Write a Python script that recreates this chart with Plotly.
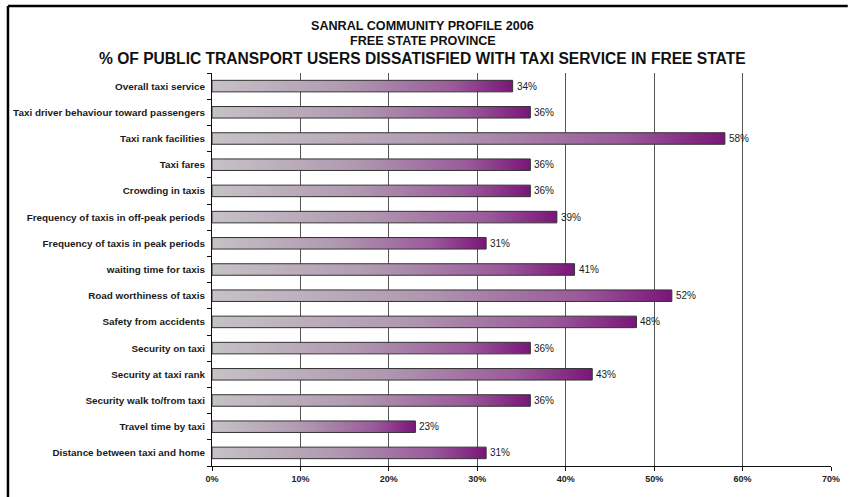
import plotly.graph_objects as go

# Survey items, listed top to bottom
categories = [
    "Overall taxi service",
    "Taxi driver behaviour toward passengers",
    "Taxi rank facilities",
    "Taxi fares",
    "Crowding in taxis",
    "Frequency of taxis in off-peak periods",
    "Frequency of taxis in peak periods",
    "waiting time for taxis",
    "Road worthiness of taxis",
    "Safety from accidents",
    "Security on taxi",
    "Security at taxi rank",
    "Security walk to/from taxi",
    "Travel time by taxi",
    "Distance between taxi and home",
]
# Percentage of users dissatisfied
dissatisfied_pct = [34, 36, 58, 36, 36, 39, 31, 41, 52, 48, 36, 43, 36, 23, 31]

x_ticks = [0, 10, 20, 30, 40, 50, 60, 70]
x_tick_labels = [f"{t}%" for t in x_ticks]

title_lines = [
    "SANRAL COMMUNITY PROFILE 2006",
    "FREE STATE PROVINCE",
    "% OF PUBLIC TRANSPORT USERS DISSATISFIED WITH TAXI SERVICE IN FREE STATE",
]

W, H = 852, 497
M_L, M_R, M_T, M_B = 212, 12, 73, 31
half = 0.22  # half bar thickness in category units
FONT = "Liberation Sans, Arial, sans-serif"

fig = go.Figure()

# Gradient-filled bars (grey on the left fading to purple at the end)
for i, v in enumerate(dissatisfied_pct):
    fig.add_trace(go.Scatter(
        x=[0, v, v, 0, 0],
        y=[i - half, i - half, i + half, i + half, i - half],
        mode="lines",
        fill="toself",
        fillgradient=dict(
            type="horizontal",
            colorscale=[[0, "#c6c2c6"], [0.45, "#b099b0"],
                        [0.8, "#9a5a9a"], [1, "#7b1579"]],
        ),
        line=dict(color="#333333", width=1),
        hoverinfo="skip",
        showlegend=False,
    ))

# Boundary tick marks on the category axis
fig.add_trace(go.Scatter(x=[None], y=[None], yaxis="y2", showlegend=False))

n = len(categories)
fig.update_layout(
    width=W, height=H,
    margin=dict(l=M_L, r=M_R, t=M_T, b=M_B),
    paper_bgcolor="white",
    plot_bgcolor="white",
    xaxis=dict(
        range=[0, 70],
        tickvals=x_ticks,
        ticktext=x_tick_labels,
        showgrid=True,
        gridcolor="#555555",
        gridwidth=1,
        zeroline=False,
        showline=True,
        linecolor="#111111",
        linewidth=1,
        ticks="outside",
        ticklen=4,
        tickcolor="#111111",
        tickfont=dict(family=FONT, size=9, color="#222222", weight="bold"),
        fixedrange=True,
    ),
    yaxis=dict(
        range=[n - 0.5, -0.5],
        tickvals=list(range(n)),
        ticktext=categories,
        showgrid=False,
        zeroline=False,
        showline=True,
        linecolor="#111111",
        linewidth=1,
        ticks="",
        ticklabelstandoff=4,
        tickfont=dict(family=FONT, size=9.9, color="#1a1a1a", weight="bold"),
    ),
    yaxis2=dict(
        overlaying="y",
        anchor="x",
        side="left",
        range=[n - 0.5, -0.5],
        tickvals=[k - 0.5 for k in range(n + 1)],
        showticklabels=False,
        ticks="outside",
        ticklen=4,
        tickcolor="#111111",
        showgrid=False,
        zeroline=False,
        showline=False,
    ),
)

# Value labels just past each bar end
for i, v in enumerate(dissatisfied_pct):
    fig.add_annotation(
        x=v, y=i, xref="x", yref="y",
        text=f"{v}%",
        xanchor="left", yanchor="middle",
        xshift=2, showarrow=False,
        font=dict(family=FONT, size=10, color="#1a1a1a"),
    )

# Three-line bold title
pw = W - M_L - M_R
ph = H - M_T - M_B
title_y_px = [26, 41, 58]
title_sizes = [12.6, 12.6, 15.6]
for txt, ypx, sz in zip(title_lines, title_y_px, title_sizes):
    fig.add_annotation(
        text=f"<b>{txt}</b>",
        xref="paper", yref="paper",
        x=(426 - M_L) / pw, y=(H - M_B - ypx) / ph,
        xanchor="center", yanchor="middle",
        showarrow=False,
        font=dict(family=FONT, size=sz, color="#111111"),
    )

# Frame along the top and left of the chart
fx0 = (5 - M_L) / pw
fx1 = (W + 5 - M_L) / pw
fy_top = (H - M_B - 6) / ph
fy_bot = (H - M_B - (H + 5)) / ph
fig.add_shape(type="line", xref="paper", yref="paper",
              x0=fx0, x1=fx1, y0=fy_top, y1=fy_top,
              line=dict(color="black", width=2.5))
fig.add_shape(type="line", xref="paper", yref="paper",
              x0=fx0, x1=fx0, y0=fy_top, y1=fy_bot,
              line=dict(color="black", width=2.5))

fig.write_html("out.html")
